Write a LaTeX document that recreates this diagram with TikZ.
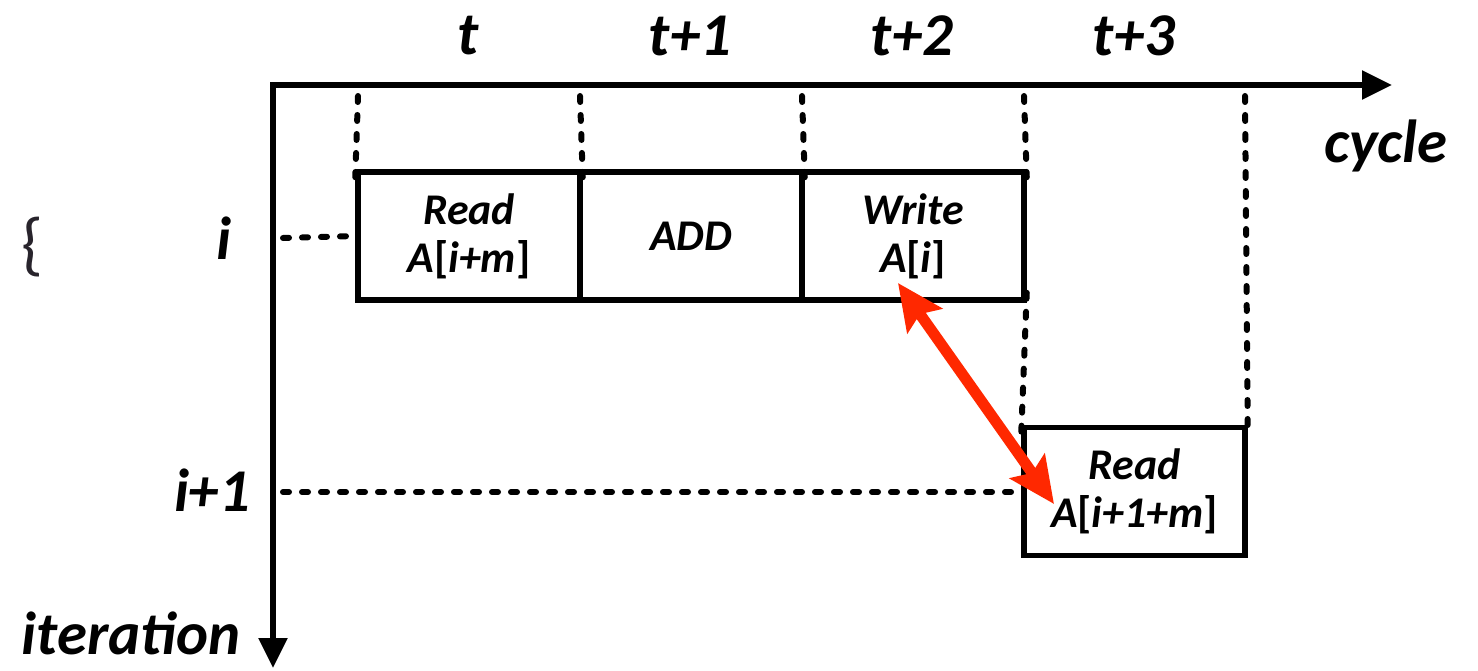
\documentclass[tikz,border=0pt]{standalone}
\usepackage{fontspec}
\setmainfont{Carlito}
\usetikzlibrary{arrows.meta}
\definecolor{arrred}{RGB}{255,40,0}
\definecolor{bracecol}{RGB}{40,36,44}
\begin{document}
\begin{tikzpicture}[x=1bp,y=-1bp,
  axis/.style={line width=5.5bp,-{Triangle[length=30bp,width=28bp]}},
  dotline/.style={line width=6bp,dash pattern=on 6bp off 13bp,line cap=round},
  big/.style={font=\fontsize{61}{66}\selectfont\bfseries\itshape},
  boxtxt/.style={font=\fontsize{44}{48}\selectfont\bfseries\itshape,align=center},
  cell/.style={draw,line width=5.5bp,minimum width=222bp,minimum height=128bp,inner sep=0pt}]
\useasboundingbox (0,0) rectangle (1478,671);
% axes
\coordinate (O) at (273,85);
\coordinate (xend) at (1392,85);
\coordinate (yend) at (273,668);
\draw[axis] ([xshift=-2.75bp]O) -- (xend);
\draw[axis] ([yshift=-2.75bp]O) -- (yend);
% cells
\node[cell] (rd) at (469,236) {};
\node[cell] (add) at (691,236) {};
\node[cell] (wr) at (913,236) {};
\node[cell,minimum width=221bp] (rd2) at (1134.5,491.5) {};
\node[boxtxt] at (rd) {Read\\A{\upshape[}i+m{\upshape]}};
\node[boxtxt] at (add) {ADD};
\node[boxtxt] at (wr) {Write\\A{\upshape[}i{\upshape]}};
\node[boxtxt] at (rd2) {Read\\A{\upshape[}i+1+m{\upshape]}};
% dotted guides
\coordinate (g1) at (358,96);
\coordinate (g2) at (580,96);
\coordinate (g3) at (802,96);
\coordinate (g4) at (1024,96);
\coordinate (g5) at (1245,96);
\draw[dotline] (g1) -- ([yshift=-8bp]rd.north west);
\draw[dotline] (g2) -- ([yshift=-8bp]rd.north east);
\draw[dotline] (g3) -- ([yshift=-8bp]add.north east);
\draw[dotline] (g4) -- ([yshift=-8bp]wr.north east);
\draw[dotline] ([yshift=10bp]wr.south east) -- ([yshift=-8bp]rd2.north west);
\draw[dotline] (g5) -- ([yshift=-8bp]rd2.north east);
\coordinate (hi) at (283,238);
\coordinate (hi1) at (283,492);
\draw[dotline] (hi) -- (rd.west);
\draw[dotline] (hi1) -- (rd2.west |- hi1);
% labels
\node[big] (lt) at (468,36) {t};
\node[big] (lt1) at (690,36) {t+1};
\node[big] (lt2) at (912,36) {t+2};
\node[big] (lt3) at (1134,36) {t+3};
\node[big] (lcyc) at (1386,146) {cycle};
\node[big] (li) at (224,238) {i};
\node[big] (li1) at (212,490) {i+1};
\node[big] (lit) at (131,633) {iteration};
\node[font=\fontsize{70}{76}\selectfont,text=bracecol] (br) at (32,247) {\{};
% dependency arrow
\coordinate (a1) at (898,283);
\coordinate (a2) at (1054,504);
\draw[arrred,line width=11bp,{Stealth[length=46bp,width=42bp,inset=8bp]}-{Stealth[length=46bp,width=42bp,inset=8bp]}] (a1) -- (a2);
\end{tikzpicture}
\end{document}
